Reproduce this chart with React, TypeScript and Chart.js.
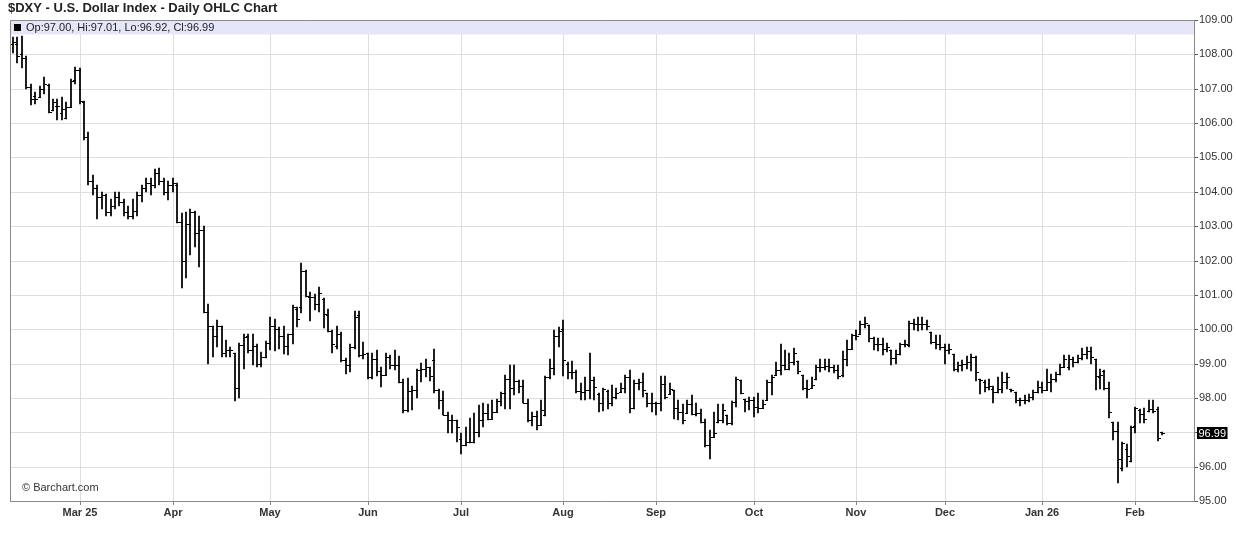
import React, { useEffect, useRef } from "react";
import { Chart, registerables } from "chart.js";

Chart.register(...registerables);

// ---- Data ----
const chartTitle = "$DXY - U.S. Dollar Index - Daily OHLC Chart";
const startDate = "2025-02-10";
const closedDates = ["2025-12-25", "2026-01-01"];
const monthTickLabels = ["Mar 25", "Apr", "May", "Jun", "Jul", "Aug", "Sep", "Oct", "Nov", "Dec", "Jan 26", "Feb"];

const opens = [
  108.30, 108.30, 108.00, 107.90, 107.05, 106.80, 106.77, 106.98, 107.10, 106.38,
  106.50, 106.30, 106.16, 106.47, 107.25, 107.55, 106.60, 105.60, 104.30, 104.10,
  103.85, 103.90, 103.40, 103.60, 103.85, 103.70, 103.40, 103.30, 103.45, 103.90,
  104.10, 104.25, 104.20, 104.55, 104.30, 104.00, 104.20, 104.20, 103.12, 102.00,
  103.06, 103.40, 102.80, 102.90, 100.50, 100.10, 99.80, 100.10, 99.30, 99.40,
  99.30, 98.30, 99.55, 99.80, 99.40, 99.50, 99.00, 99.20, 99.60, 100.10,
  100.00, 99.80, 99.50, 99.87, 100.60, 100.66, 101.70, 100.95, 100.95, 100.74,
  100.88, 100.40, 99.95, 99.50, 99.87, 99.10, 98.95, 99.48, 100.40, 99.24,
  99.30, 98.60, 99.14, 98.79, 98.66, 99.19, 98.95, 98.95, 98.47, 97.66,
  98.20, 98.22, 98.82, 98.85, 98.90, 99.10, 98.23, 97.93, 97.50, 97.35,
  97.35, 96.80, 96.63, 96.73, 96.73, 97.00, 97.35, 97.55, 97.40, 97.60,
  97.90, 98.13, 98.56, 98.30, 98.50, 98.34, 97.86, 97.37, 97.47, 97.20,
  97.50, 98.61, 98.88, 99.80, 100.00, 99.00, 98.76, 98.76, 98.20, 98.18,
  98.23, 98.52, 98.10, 97.86, 98.20, 97.84, 98.03, 98.18, 98.30, 98.60,
  97.72, 98.44, 98.47, 98.15, 97.84, 97.86, 97.84, 98.40, 98.11, 98.24,
  97.72, 97.60, 97.57, 97.82, 97.53, 97.55, 97.30, 96.63, 96.87, 97.30,
  97.37, 97.50, 97.26, 97.89, 98.52, 97.98, 97.92, 97.93, 97.74, 97.72,
  97.95, 98.47, 98.66, 98.80, 98.95, 98.85, 99.05, 99.07, 98.66, 98.30,
  98.30, 98.55, 98.90, 98.90, 98.92, 98.90, 98.80, 98.66, 99.14, 99.43,
  99.82, 99.87, 100.16, 100.13, 99.73, 99.58, 99.58, 99.43, 99.39, 99.17,
  99.29, 99.58, 99.53, 100.18, 100.14, 100.16, 100.14, 99.92, 99.63, 99.56,
  99.48, 99.39, 99.29, 98.83, 98.95, 99.00, 99.05, 99.19, 98.56, 98.47,
  98.32, 98.27, 98.18, 98.27, 98.47, 98.25, 98.18, 97.93, 97.93, 97.95,
  98.03, 98.18, 98.32, 98.23, 98.47, 98.56, 98.71, 98.90, 98.90, 99.14,
  99.05, 99.15, 99.29, 99.37, 99.12, 98.61, 98.79, 98.30, 97.30, 97.03,
  95.95, 96.50, 96.17, 97.18, 97.65, 97.52, 97.62, 97.69, 97.69, 97.00,
];

const highs = [
  108.50, 108.50, 108.52, 107.95, 107.13, 106.89, 107.08, 107.35, 107.13, 106.70,
  106.70, 106.76, 106.60, 107.28, 107.63, 107.60, 106.65, 105.75, 104.50, 104.20,
  104.00, 103.95, 103.80, 104.00, 104.00, 103.80, 103.60, 103.80, 104.00, 104.20,
  104.40, 104.40, 104.65, 104.70, 104.40, 104.30, 104.40, 104.27, 103.37, 103.40,
  103.50, 103.43, 103.30, 103.00, 100.74, 100.10, 100.26, 100.10, 99.70, 99.48,
  99.30, 99.60, 99.87, 99.85, 99.87, 99.58, 99.34, 99.65, 100.35, 100.30,
  100.06, 100.10, 99.87, 100.70, 100.65, 101.93, 101.73, 101.08, 101.03, 101.24,
  100.90, 100.58, 99.97, 100.10, 99.92, 99.15, 99.58, 100.52, 100.52, 99.63,
  99.31, 99.31, 99.39, 98.90, 99.31, 99.26, 99.39, 99.21, 98.56, 98.58,
  98.34, 98.85, 99.02, 99.14, 98.90, 99.42, 98.25, 98.20, 97.60, 97.50,
  97.35, 96.97, 97.16, 97.42, 97.55, 97.79, 97.84, 97.82, 97.93, 97.98,
  98.18, 98.66, 98.95, 98.95, 98.52, 98.52, 97.98, 97.60, 97.62, 97.93,
  98.65, 99.13, 99.97, 100.06, 100.26, 99.05, 99.08, 98.82, 98.44, 98.61,
  99.31, 98.60, 98.13, 98.30, 98.23, 98.37, 98.30, 98.42, 98.66, 98.82,
  98.52, 98.54, 98.73, 98.15, 98.13, 97.89, 98.63, 98.63, 98.44, 98.24,
  97.93, 97.82, 97.95, 98.08, 97.84, 97.69, 97.40, 97.06, 97.60, 97.82,
  97.82, 97.50, 97.92, 98.61, 98.52, 97.98, 98.03, 98.03, 98.13, 97.93,
  98.52, 98.66, 99.05, 99.56, 99.39, 99.31, 99.46, 99.07, 98.66, 98.53,
  98.61, 98.95, 99.12, 99.12, 99.12, 98.95, 98.95, 99.37, 99.70, 99.87,
  99.97, 100.24, 100.35, 100.13, 99.77, 99.73, 99.75, 99.60, 99.39, 99.39,
  99.60, 99.68, 100.24, 100.31, 100.37, 100.35, 100.26, 99.92, 99.82, 99.82,
  99.58, 99.56, 99.29, 99.05, 99.10, 99.21, 99.29, 99.21, 98.56, 98.52,
  98.56, 98.34, 98.61, 98.76, 98.73, 98.27, 98.18, 98.01, 98.08, 98.11,
  98.23, 98.50, 98.47, 98.85, 98.71, 98.76, 99.00, 99.24, 99.24, 99.20,
  99.24, 99.44, 99.48, 99.48, 99.14, 98.85, 98.82, 98.47, 97.31, 97.31,
  96.72, 96.66, 97.18, 97.74, 97.69, 97.72, 97.95, 97.95, 97.74, 97.01,
];

const lows = [
  108.05, 107.75, 107.60, 107.00, 106.53, 106.55, 106.76, 106.84, 106.30, 106.34,
  106.09, 106.09, 106.12, 106.47, 107.13, 106.55, 105.50, 104.20, 103.90, 103.20,
  103.50, 103.30, 103.30, 103.50, 103.60, 103.30, 103.20, 103.20, 103.30, 103.70,
  104.00, 103.90, 104.10, 104.20, 103.90, 103.75, 104.00, 103.08, 101.20, 101.50,
  102.15, 102.40, 101.80, 100.47, 99.00, 99.19, 99.48, 99.20, 99.20, 99.20,
  97.90, 98.00, 98.85, 99.30, 98.95, 98.90, 98.90, 99.15, 99.40, 99.37,
  99.43, 99.27, 99.24, 99.58, 100.06, 100.47, 100.94, 100.24, 100.55, 100.50,
  100.04, 99.92, 99.31, 99.43, 99.05, 98.69, 98.76, 99.43, 99.20, 99.12,
  98.56, 98.56, 98.63, 98.32, 98.66, 98.85, 98.82, 98.44, 97.57, 97.60,
  97.64, 98.00, 98.47, 98.60, 98.50, 98.13, 97.69, 97.50, 96.97, 96.99,
  96.73, 96.37, 96.60, 96.68, 96.70, 96.87, 97.16, 97.35, 97.40, 97.60,
  97.76, 97.69, 97.69, 98.08, 98.13, 97.86, 97.31, 97.18, 97.08, 97.20,
  97.47, 98.56, 98.66, 99.48, 98.63, 98.56, 98.56, 98.13, 97.93, 97.93,
  97.98, 97.93, 97.60, 97.62, 97.69, 97.76, 97.98, 98.18, 98.15, 97.55,
  97.69, 98.24, 98.03, 97.74, 97.60, 97.50, 97.62, 97.98, 98.11, 97.40,
  97.37, 97.24, 97.57, 97.50, 97.47, 97.26, 96.58, 96.21, 96.87, 97.26,
  97.28, 97.21, 97.21, 97.74, 98.11, 97.60, 97.65, 97.45, 97.55, 97.72,
  97.93, 98.08, 98.66, 98.66, 98.81, 98.81, 98.95, 98.71, 98.24, 98.01,
  98.30, 98.51, 98.76, 98.80, 98.76, 98.73, 98.56, 98.61, 98.92, 99.41,
  99.70, 99.87, 100.04, 99.63, 99.39, 99.37, 99.24, 99.34, 98.95, 98.98,
  99.24, 99.48, 99.48, 99.97, 99.95, 99.97, 99.97, 99.56, 99.41, 99.39,
  99.00, 99.27, 98.79, 98.76, 98.79, 98.85, 98.79, 98.50, 98.11, 98.18,
  98.23, 97.86, 98.13, 98.15, 98.27, 98.18, 97.84, 97.76, 97.82, 97.89,
  97.93, 98.15, 98.13, 98.22, 98.18, 98.47, 98.66, 98.90, 98.81, 98.90,
  99.02, 99.10, 99.14, 99.00, 98.22, 98.27, 98.23, 97.43, 96.79, 95.53,
  95.88, 96.00, 96.14, 96.99, 97.26, 97.28, 97.60, 97.55, 96.75, 96.92,
];

const closes = [
  108.35, 107.95, 107.90, 107.05, 106.70, 106.70, 106.98, 107.13, 106.32, 106.60,
  106.50, 106.40, 106.46, 107.23, 107.55, 106.65, 105.60, 104.30, 104.10, 103.85,
  103.90, 103.40, 103.60, 103.85, 103.70, 103.40, 103.30, 103.45, 103.90, 104.10,
  104.25, 104.20, 104.55, 104.30, 104.00, 104.20, 104.25, 103.12, 102.00, 103.06,
  103.40, 102.80, 102.90, 100.50, 100.10, 99.80, 100.10, 99.30, 99.40, 99.40,
  98.30, 99.55, 99.78, 99.40, 99.50, 99.00, 99.20, 99.60, 100.10, 100.00,
  99.80, 99.50, 99.87, 100.65, 100.30, 101.70, 100.96, 100.95, 100.74, 101.05,
  100.43, 99.95, 99.58, 99.87, 99.10, 98.95, 99.48, 100.37, 99.24, 99.29,
  98.60, 99.14, 98.79, 98.66, 99.19, 98.95, 98.95, 98.47, 97.66, 98.20,
  98.22, 98.82, 98.85, 98.90, 98.65, 98.23, 97.93, 97.50, 97.35, 97.35,
  97.15, 96.63, 96.73, 96.73, 97.00, 97.35, 97.55, 97.40, 97.60, 97.90,
  98.13, 98.56, 98.30, 98.50, 98.34, 97.86, 97.37, 97.47, 97.20, 97.65,
  98.61, 98.88, 99.80, 99.95, 99.10, 98.76, 98.76, 98.20, 98.18, 98.23,
  98.52, 98.32, 97.86, 98.25, 97.84, 98.03, 98.15, 98.30, 98.60, 97.72,
  98.44, 98.47, 98.22, 97.84, 97.86, 97.84, 98.40, 98.03, 98.25, 97.72,
  97.60, 97.37, 97.82, 97.53, 97.55, 97.30, 96.63, 96.87, 96.98, 97.37,
  97.66, 97.26, 97.89, 98.56, 98.15, 97.92, 97.93, 97.74, 97.72, 97.82,
  98.47, 98.61, 98.80, 98.95, 98.85, 99.05, 99.31, 98.78, 98.30, 98.27,
  98.37, 98.90, 98.90, 98.92, 98.90, 98.80, 98.63, 99.14, 99.43, 99.82,
  99.80, 100.16, 100.18, 99.73, 99.58, 99.58, 99.43, 99.48, 99.17, 99.29,
  99.58, 99.58, 100.18, 100.14, 100.16, 100.14, 100.10, 99.63, 99.56, 99.48,
  99.39, 99.43, 98.83, 98.95, 99.00, 99.05, 99.19, 98.76, 98.51, 98.32,
  98.34, 98.18, 98.27, 98.47, 98.61, 98.24, 97.93, 97.93, 97.95, 98.03,
  98.18, 98.32, 98.23, 98.47, 98.56, 98.71, 98.90, 99.12, 99.14, 99.05,
  99.15, 99.29, 99.37, 99.20, 98.63, 98.66, 98.30, 97.60, 97.03, 96.21,
  96.70, 96.30, 97.14, 97.72, 97.52, 97.40, 97.69, 97.62, 96.82, 96.99,
];

// ---- Axis settings ----
const X_MIN = -0.68;
const X_MAX = 266.2;
const Y_MIN = 95;
const Y_MAX = 109;
const FONT = '"Liberation Sans", Arial, Helvetica, sans-serif';

function tradingDates(count: number): Date[] {
  const out: Date[] = [];
  const d = new Date(startDate + "T00:00:00Z");
  while (out.length < count) {
    const wd = d.getUTCDay();
    const iso = d.toISOString().slice(0, 10);
    if (wd !== 0 && wd !== 6 && !closedDates.includes(iso)) out.push(new Date(d.getTime()));
    d.setUTCDate(d.getUTCDate() + 1);
  }
  return out;
}

function makeTick(side: "left" | "right"): HTMLCanvasElement {
  const c = document.createElement("canvas");
  c.width = 7;
  c.height = 1;
  const g = c.getContext("2d")!;
  g.fillStyle = "#000";
  if (side === "left") g.fillRect(1, 0, 3, 1);
  else g.fillRect(3, 0, 3, 1);
  return c;
}

export default function App() {
  const ref = useRef<HTMLCanvasElement>(null);

  useEffect(() => {
    const canvas = ref.current;
    if (!canvas) return;
    const n = closes.length;
    const dates = tradingDates(n);
    const monthTickIdx: number[] = [];
    for (let i = 1; i < n; i++) {
      if (dates[i].getUTCMonth() !== dates[i - 1].getUTCMonth()) monthTickIdx.push(i);
    }
    const last = n - 1;
    const legendText = `Op:${opens[last].toFixed(2)}, Hi:${highs[last].toFixed(2)}, Lo:${lows[last].toFixed(2)}, Cl:${closes[last].toFixed(2)}`;

    const openImg = makeTick("left");
    const closeImg = makeTick("right");

    const decor = {
      id: "decor",
      beforeDatasetsDraw(chart: any) {
        const { ctx, chartArea: a } = chart;
        ctx.save();
        ctx.fillStyle = "#e6e6fa";
        ctx.fillRect(a.left, a.top, a.right - a.left, 14.5);
        ctx.strokeStyle = "#8a8a8a";
        ctx.lineWidth = 1;
        ctx.beginPath();
        ctx.moveTo(a.left + 0.5, a.bottom);
        ctx.lineTo(a.left + 0.5, a.top + 0.5);
        ctx.lineTo(a.right, a.top + 0.5);
        ctx.stroke();
        ctx.fillStyle = "#000";
        ctx.fillRect(a.left + 4, a.top + 4, 7, 7);
        ctx.font = `11px ${FONT}`;
        ctx.fillStyle = "#222";
        ctx.textBaseline = "middle";
        ctx.textAlign = "left";
        ctx.fillText(legendText, a.left + 16, a.top + 8);
        ctx.restore();
        ctx.imageSmoothingEnabled = false;
      },
      afterDraw(chart: any) {
        const { ctx, chartArea: a, scales } = chart;
        ctx.save();
        ctx.font = `bold 13px ${FONT}`;
        ctx.fillStyle = "#222";
        ctx.textBaseline = "middle";
        ctx.textAlign = "left";
        ctx.fillText(chartTitle, 8, 8.5);
        ctx.font = `11px ${FONT}`;
        ctx.fillStyle = "#333";
        ctx.fillText("\u00A9 Barchart.com", a.left + 12, a.bottom - 13);
        const y = scales.y.getPixelForValue(closes[last]);
        const txt = closes[last].toFixed(2);
        const w = ctx.measureText(txt).width;
        ctx.fillStyle = "#000";
        ctx.fillRect(a.right + 3, Math.round(y) - 6, w + 3, 12);
        ctx.fillStyle = "#fff";
        ctx.fillText(txt, a.right + 4.5, Math.round(y) + 0.5);
        ctx.restore();
      },
    };

    const chart = new Chart(canvas, {
      type: "bar",
      data: {
        datasets: [
          {
            type: "bar",
            data: highs.map((h, i) => ({ x: i, y: [lows[i], h] })) as any,
            backgroundColor: "#000",
            borderWidth: 0,
            barThickness: 1.1,
            grouped: false,
          } as any,
          {
            type: "scatter",
            data: opens.map((o, i) => ({ x: i, y: o })),
            pointStyle: openImg as any,
            pointRadius: 3,
            pointHoverRadius: 3,
            showLine: false,
          } as any,
          {
            type: "scatter",
            data: closes.map((c, i) => ({ x: i, y: c })),
            pointStyle: closeImg as any,
            pointRadius: 3,
            pointHoverRadius: 3,
            showLine: false,
          } as any,
        ],
      },
      options: {
        animation: false,
        responsive: false,
        devicePixelRatio: 1,
        events: [],
        layout: { padding: { left: 10, top: 20, right: 0, bottom: 0 } },
        plugins: { legend: { display: false }, tooltip: { enabled: false }, title: { display: false } },
        scales: {
          x: {
            type: "linear",
            min: X_MIN,
            max: X_MAX,
            offset: false,
            alignToPixels: true,
            afterBuildTicks: (scale: any) => {
              scale.ticks = monthTickIdx.map((v) => ({ value: v }));
            },
            afterFit: (scale: any) => {
              scale.height = 41;
            },
            ticks: {
              autoSkip: false,
              maxRotation: 0,
              padding: 1,
              color: "#333",
              font: { family: FONT, size: 11, weight: "bold" },
              callback: (_v: any, i: number) => monthTickLabels[i],
            },
            grid: { offset: false, color: "#dddddd", tickColor: "#888", tickLength: 4, lineWidth: 1 },
            border: { color: "#8a8a8a" },
          },
          y: {
            position: "right",
            min: Y_MIN,
            max: Y_MAX,
            alignToPixels: true,
            afterFit: (scale: any) => {
              scale.width = 42;
            },
            ticks: {
              stepSize: 1,
              padding: 1,
              color: "#333",
              font: { family: FONT, size: 11 },
              callback: (v: any) => Number(v).toFixed(2),
            },
            grid: { color: "#dddddd", tickColor: "#555", tickLength: 4, lineWidth: 1 },
            border: { color: "#8a8a8a" },
          },
        },
      } as any,
      plugins: [decor],
    });

    return () => chart.destroy();
  }, []);

  return (
    <div style={{ position: "absolute", left: 0, top: 0, width: 1236, height: 542, background: "#fff" }}>
      <canvas ref={ref} width={1236} height={542} style={{ display: "block", width: 1236, height: 542 }} />
    </div>
  );
}
